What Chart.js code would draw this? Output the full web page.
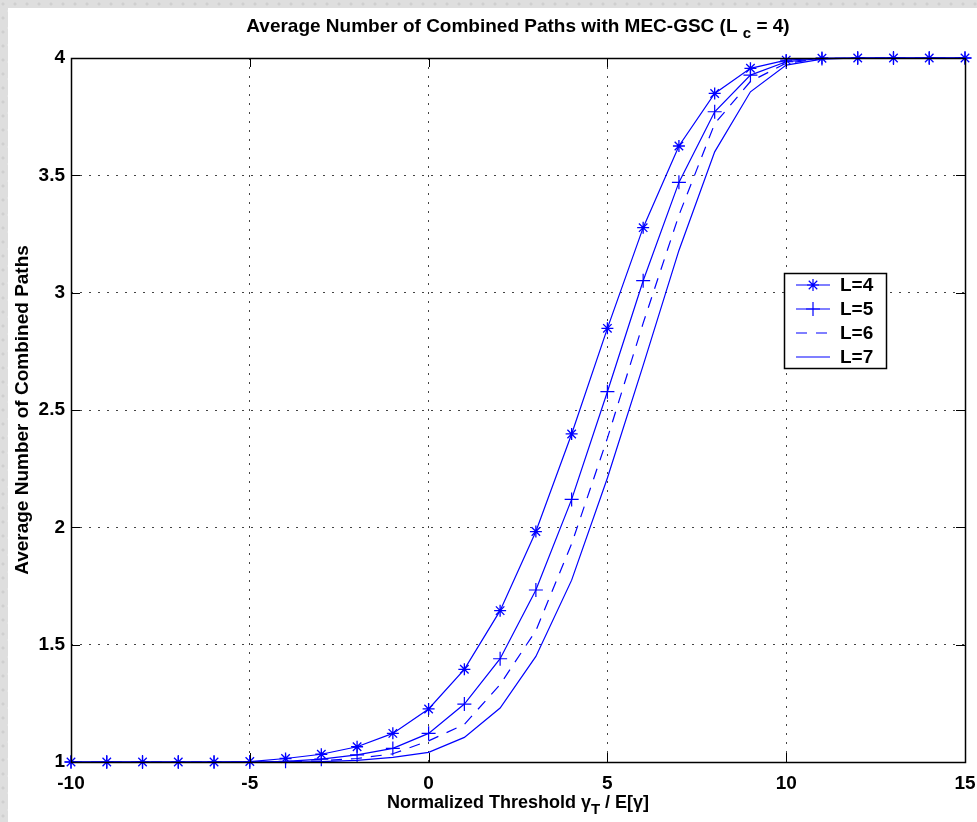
<!DOCTYPE html>
<html lang="en">
<head>
<meta charset="UTF-8">
<title>Average Number of Combined Paths with MEC-GSC</title>
<style>
    body, html {
        margin: 0;
        width: 977px;
        height: 822px;
        overflow: hidden;
        background-color: #dedede;
        background-image:
            radial-gradient(circle at 3px 4px, #cfcfcf 1px, transparent 2px),
            radial-gradient(circle at 9px 11px, #ececec 1px, transparent 2px);
        background-size: 12px 14px, 10px 17px;
    }
    /* white figure area */
    .panel {
        position: absolute;
        left: 8px;
        top: 8px;
        right: 0;
        bottom: 0;
        background: #fff;
    }
    .wrap {
        position: absolute;
        left: 0;
        top: 0;
        width: 977px;
        height: 822px;
    }
</style>
</head>
<body>
<div class="panel"></div>
<div class="wrap"><canvas id="chart" width="977" height="822"></canvas></div>

<script src="https://cdn.jsdelivr.net/npm/chart.js"></script>
<script>
// threshold values (x axis)
const xs = [-10, -9, -8, -7, -6, -5, -4, -3, -2, -1, 0, 1, 2, 3, 4, 5, 6, 7, 8, 9, 10, 11, 12, 13, 14, 15];

const L4 = [1, 1, 1, 1, 1, 1.002, 1.015, 1.033, 1.065, 1.122, 1.226, 1.395, 1.645, 1.982, 2.398, 2.848, 3.277, 3.625, 3.849, 3.956, 3.991, 3.999, 4, 4, 4, 4];
const L5 = [1, 1, 1, 1, 1, 1, 1.003, 1.012, 1.03, 1.058, 1.122, 1.247, 1.44, 1.733, 2.119, 2.578, 3.051, 3.47, 3.771, 3.927, 3.984, 3.998, 4, 4, 4, 4];
const L6 = [1, 1, 1, 1, 1, 1, 1.001, 1.005, 1.015, 1.035, 1.09, 1.16, 1.33, 1.56, 1.93, 2.38, 2.87, 3.33, 3.72, 3.90, 3.978, 3.997, 4, 4, 4, 4];
const L7 = [1, 1, 1, 1, 1, 1, 1, 1.002, 1.007, 1.02, 1.041, 1.105, 1.23, 1.45, 1.775, 2.21, 2.69, 3.18, 3.60, 3.856, 3.97, 3.995, 4, 4, 4, 4];

const seriesLabels = ['L=4', 'L=5', 'L=6', 'L=7'];
const xTicks = [-10, -5, 0, 5, 10, 15];
const yTicks = [1, 1.5, 2, 2.5, 3, 3.5, 4];

const BLUE = '#0000ff';
const FONT = '"Liberation Sans", Arial, sans-serif';

function pts(arr) {
    return xs.map((x, i) => ({ x: x, y: arr[i] }));
}

function line(ctx, x1, y1, x2, y2) {
    ctx.beginPath();
    ctx.moveTo(x1, y1);
    ctx.lineTo(x2, y2);
    ctx.stroke();
}

// draws text pieces in a row, some as subscripts
function drawPieces(ctx, pieces, cx, cy, size, subSize) {
    let total = 0;
    pieces.forEach(p => {
        ctx.font = 'bold ' + (p.sub ? subSize : size) + 'px ' + FONT;
        p.w = ctx.measureText(p.t).width;
        total += p.w;
    });
    let x = cx - total / 2;
    ctx.textBaseline = 'middle';
    ctx.textAlign = 'left';
    pieces.forEach(p => {
        ctx.font = 'bold ' + (p.sub ? subSize : size) + 'px ' + FONT;
        ctx.fillText(p.t, x, p.sub ? cy + 7 : cy);
        x += p.w;
    });
}

// box, inward ticks, legend, title and axis labels (MATLAB look)
const figPlugin = {
    id: 'fig',
    afterDraw(chart) {
        const ctx = chart.ctx;
        const a = chart.chartArea;
        const sx = chart.scales.x, sy = chart.scales.y;
        ctx.save();
        ctx.strokeStyle = '#000';
        ctx.lineWidth = 1;
        ctx.setLineDash([]);

        // ticks
        xTicks.forEach(v => {
            const px = Math.round(sx.getPixelForValue(v)) + 0.5;
            line(ctx, px, a.bottom, px, a.bottom - 9);
            line(ctx, px, a.top, px, a.top + 9);
        });
        yTicks.forEach(v => {
            const py = Math.round(sy.getPixelForValue(v)) + 0.5;
            line(ctx, a.left, py, a.left + 9, py);
            line(ctx, a.right, py, a.right - 9, py);
        });
        ctx.lineWidth = 1.5;
        ctx.strokeRect(Math.round(a.left) + 0.5, Math.round(a.top) + 0.5,
            Math.round(a.right - a.left), Math.round(a.bottom - a.top));

        // legend
        const lx = a.right - 181, ly = a.top + 215, lw = 102, lh = 95;
        ctx.fillStyle = '#fff';
        ctx.fillRect(lx, ly, lw, lh);
        ctx.lineWidth = 1.5;
        ctx.strokeStyle = '#000';
        ctx.strokeRect(lx + 0.5, ly + 0.5, lw, lh);
        chart.data.datasets.forEach((ds, i) => {
            const ry = ly + 12 + i * 24;
            ctx.strokeStyle = BLUE;
            ctx.lineWidth = ds.borderWidth;
            ctx.setLineDash(ds.borderDash || []);
            line(ctx, lx + 12, ry, lx + 46, ry);
            ctx.setLineDash([]);
            if (ds.pointRadius > 0) {
                Chart.helpers.drawPoint(ctx, {
                    pointStyle: ds.pointStyle,
                    radius: ds.pointRadius,
                    borderWidth: 1,
                    rotation: 0
                }, lx + 29, ry);
            }
            ctx.fillStyle = '#000';
            ctx.font = 'bold 19px ' + FONT;
            ctx.textAlign = 'left';
            ctx.textBaseline = 'middle';
            ctx.fillText(ds.label, lx + 56, ry + 1);
        });

        // title
        ctx.fillStyle = '#000';
        const cx = (a.left + a.right) / 2;
        drawPieces(ctx, [
            { t: 'Average Number of Combined Paths with MEC-GSC (L ' },
            { t: 'c', sub: true },
            { t: ' = 4)' }
        ], cx, 27, 19, 15);

        // x label
        drawPieces(ctx, [
            { t: 'Normalized Threshold \u03B3' },
            { t: 'T', sub: true },
            { t: ' / E[\u03B3]' }
        ], cx, 803, 18, 15);

        // y label
        ctx.save();
        ctx.translate(23, (a.top + a.bottom) / 2);
        ctx.rotate(-Math.PI / 2);
        ctx.font = 'bold 19px ' + FONT;
        ctx.textAlign = 'center';
        ctx.textBaseline = 'middle';
        ctx.fillText('Average Number of Combined Paths', 0, 0);
        ctx.restore();

        ctx.restore();
    }
};

const tickFont = { family: FONT, size: 19, weight: 'bold' };

new Chart(document.getElementById('chart'), {
    type: 'line',
    data: {
        datasets: [
            { label: seriesLabels[0], data: pts(L4), borderColor: BLUE, backgroundColor: BLUE, borderWidth: 1.2,
              pointStyle: 'star', pointRadius: 6, pointBorderWidth: 1.3, pointBorderColor: BLUE },
            { label: seriesLabels[1], data: pts(L5), borderColor: BLUE, backgroundColor: BLUE, borderWidth: 1.2,
              pointStyle: 'cross', pointRadius: 7, pointBorderWidth: 1.2, pointBorderColor: BLUE },
            { label: seriesLabels[2], data: pts(L6), borderColor: BLUE, backgroundColor: BLUE, borderWidth: 1.2,
              borderDash: [11, 9], pointRadius: 0 },
            { label: seriesLabels[3], data: pts(L7), borderColor: BLUE, backgroundColor: BLUE, borderWidth: 1.2,
              pointRadius: 0 }
        ]
    },
    options: {
        responsive: false,
        animation: false,
        events: [],
        clip: false,
        layout: { padding: { left: 0, top: 58, right: 12, bottom: 0 } },
        elements: { line: { tension: 0 } },
        plugins: {
            legend: { display: false },
            title: { display: false },
            tooltip: { enabled: false }
        },
        scales: {
            x: {
                type: 'linear',
                min: -10,
                max: 15,
                afterFit: s => { s.height = 60; s.paddingLeft = 0; s.paddingRight = 0; },
                afterBuildTicks: s => { s.ticks = xTicks.map(v => ({ value: v })); },
                ticks: { font: tickFont, color: '#000', padding: 10, maxRotation: 0 },
                grid: { color: '#444', lineWidth: 1, drawTicks: false },
                border: { display: false, dash: [2, 7] }
            },
            y: {
                type: 'linear',
                min: 1,
                max: 4,
                afterFit: s => { s.width = 71; s.paddingTop = 0; s.paddingBottom = 0; },
                afterBuildTicks: s => { s.ticks = yTicks.map(v => ({ value: v })); },
                ticks: { font: tickFont, color: '#000', padding: 6, callback: v => String(v) },
                grid: { color: '#444', lineWidth: 1, drawTicks: false },
                border: { display: false, dash: [2, 7] }
            }
        }
    },
    plugins: [figPlugin]
});
</script>
</body>
</html>
